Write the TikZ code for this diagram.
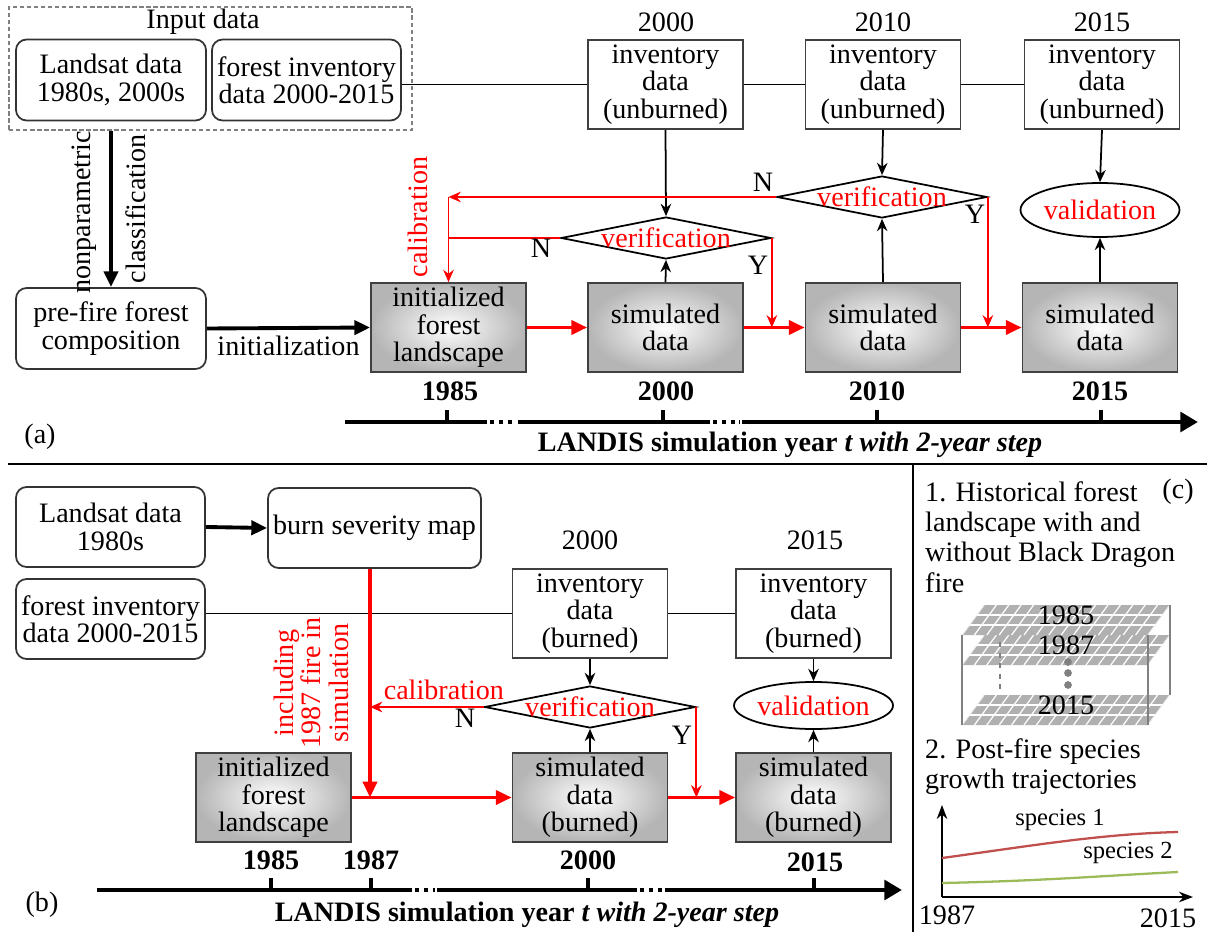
\documentclass[tikz,border=0pt]{standalone}
\usepackage{fontspec}
\setmainfont{Liberation Serif}
\usetikzlibrary{arrows.meta,shapes.geometric}
\definecolor{sponeline}{HTML}{C0504D}
\definecolor{sptwoline}{HTML}{9BBB59}
\tikzset{
  rbox/.style={draw=black!80, line width=1pt, rounded corners=6pt, align=center, inner sep=1pt,
    minimum width=3.8cm, minimum height=1.62cm},
  invbox/.style={draw=black!75, line width=1pt, align=center, inner sep=1pt,
    minimum width=3.1cm, minimum height=1.78cm},
  simbox/.style={invbox, shading=radial, inner color=white, outer color=gray!58},
  check/.style={draw, diamond, line width=1pt, inner sep=0pt, minimum width=4.2cm, minimum height=0.84cm},
  valid/.style={draw, ellipse, line width=1pt, text=red, inner sep=0pt, minimum width=3.12cm, minimum height=1.08cm},
  link/.style={line width=1pt, -{Stealth[length=7pt,width=6pt]}},
  push/.style={line width=2.2pt, -{Triangle[length=9pt,width=8pt]}},
  feed/.style={red, line width=2pt, -{Triangle[length=9pt,width=8pt]}},
  back/.style={red, line width=1.1pt, -{Stealth[length=7pt,width=6pt]}},
  axis/.style={line width=2.8pt},
  tick/.style={line width=1.8pt},
  yr/.style={font=\fontsize{16}{16}\selectfont\bfseries},
}
\begin{document}
\begin{tikzpicture}[x=0.02cm, y=-0.02cm, every node/.append style={font=\fontsize{16}{15.6}\selectfont}]
\useasboundingbox (0,0) rectangle (1214,932);

% (a) input data
\node[draw=gray, dashed, dash pattern=on 2.5pt off 1.5pt, line width=0.9pt,
  minimum width=8.06cm, minimum height=2.46cm] (input) at (210.5,68.5) {};
\node (inlbl) at (203,22) {Input data};
\node[rbox] (landA) at (111,80) {Landsat data\\1980s, 2000s};
\node[rbox, minimum width=3.78cm] (forA) at (306.5,80) {forest inventory\\data 2000-2015};
\node[rbox] (prefire) at (111,328.5) {pre-fire forest\\composition};

% (a) inventory data
\node (ya2000) at (666,22) {2000};
\node (ya2010) at (883,22) {2010};
\node (ya2015) at (1102,22) {2015};
\node[invbox] (invA2000) at (665.5,84.5) {inventory\\data\\(unburned)};
\node[invbox] (invA2010) at (883,84.5) {inventory\\data\\(unburned)};
\node[invbox] (invA2015) at (1102,84.5) {inventory\\data\\(unburned)};

% (a) checks
\node[check, label={[text=red]center:verification}] (chkA1) at (666,238) {};
\node[check, label={[text=red]center:verification}] (chkA2) at (882,197) {};
\node[valid] (valA) at (1100,210) {validation};

% (a) simulation
\node[simbox] (initA) at (448.5,327.5) {initialized\\forest\\landscape};
\node[simbox] (simA2000) at (665.5,327.5) {simulated\\data};
\node[simbox] (simA2010) at (883,327.5) {simulated\\data};
\node[simbox] (simA2015) at (1100,327.5) {simulated\\data};

\draw[line width=1pt] (forA.east |- invA2000.west) -- (invA2000.west);
\draw[line width=1pt] (invA2000.east) -- (invA2010.west);
\draw[line width=1pt] (invA2010.east) -- (invA2015.west);
\draw[link] (invA2000.south) -- (chkA1.north);
\draw[link] (invA2010.south) -- (chkA2.north);
\draw[link] (invA2015.south) -- (valA.north);
\draw[link] (simA2000.north) -- (chkA1.south);
\draw[link] (simA2010.north) -- (chkA2.south);
\draw[link] (simA2015.north) -- (valA.south);

\draw[push] (input.south -| prefire.north) -- (prefire.north)
  node[pos=0.52, rotate=90, anchor=south, inner sep=7pt] (nonpar) {nonparametric}
  node[pos=0.5, rotate=90, anchor=north, inner sep=7pt] (classif) {classification};
\draw[push] (prefire.east) -- (initA.west) node[midway, below] (initlbl) {initialization};

\draw[feed] (initA.east) -- (simA2000.west);
\draw[feed] (simA2000.east) -- (simA2010.west);
\draw[feed] (simA2010.east) -- (simA2015.west);
\draw[back] (chkA1.east) -- (chkA1.east |- simA2000.east);
\draw[back] (chkA2.east) -- (chkA2.east |- simA2010.east);
\draw[back] (chkA2.west) -- (chkA2.west -| initA.north);
\draw[back] (chkA2.west -| initA.north) -- (initA.north);
\draw[red, line width=1.1pt] (chkA1.west) -- (chkA1.west -| initA.north);
\node[red, rotate=90] (calA) at (418,217) {calibration};
\node (nA1) at (541,248) {N};
\node (yA1) at (758,265) {Y};
\node (nA2) at (763,182) {N};
\node (yA2) at (975,214) {Y};

% (a) time line
\node[yr] (ta1985) at (450,391) {1985};
\node[yr] (ta2000) at (666,391) {2000};
\node[yr] (ta2010) at (877,391) {2010};
\node[yr] (ta2015) at (1100,391) {2015};
\draw[axis] (345,422) -- (487,422);
\draw[axis, dash pattern=on 2.5pt off 2.5pt] (490,422) -- (516,422);
\draw[axis] (518,422) -- (710,422);
\draw[axis, dash pattern=on 2.5pt off 2.5pt] (713,422) -- (740,422);
\draw[axis, -{Triangle[length=10pt,width=11pt]}] (742,422) -- (1198,422);
\foreach \x in {447,663,877,1101} \draw[tick] (\x,423) -- (\x,410);
\node[yr] (axlblA) at (790,445) {LANDIS simulation year \textit{t with 2-year step}};
\node (pa) at (40,437) {(a)};

% separators
\draw[line width=1pt] (8,464) -- (1207,464);
\draw[line width=1pt] (913,464) -- (913,932);

% (b) inputs
\node[rbox, minimum width=3.78cm, minimum height=1.6cm] (landB) at (110.5,527) {Landsat data\\1980s};
\node[rbox, minimum width=4.26cm, minimum height=1.6cm] (burn) at (374.5,528) {burn severity map};
\node[rbox, minimum width=3.78cm, minimum height=1.6cm] (forB) at (110.5,619) {forest inventory\\data 2000-2015};
\draw[push] (landB.east) -- (burn.west);

% (b) inventory data
\node (yb2000) at (590,540) {2000};
\node (yb2015) at (815,540) {2015};
\node[invbox] (invB2000) at (590,613.5) {inventory\\data\\(burned)};
\node[invbox] (invB2015) at (813.5,613.5) {inventory\\data\\(burned)};
\node[check, minimum width=4.22cm, label={[text=red]center:verification}] (chkB) at (590,707) {};
\node[valid, minimum height=0.94cm] (valB) at (813.5,705.5) {validation};

% (b) simulation
\node[simbox] (initB) at (273.5,797.5) {initialized\\forest\\landscape};
\node[simbox] (simB2000) at (590,797.5) {simulated\\data\\(burned)};
\node[simbox] (simB2015) at (813.5,797.5) {simulated\\data\\(burned)};
\coordinate (fire) at (370,797.5);

\draw[line width=1pt] (forB.east |- invB2000.west) -- (invB2000.west);
\draw[line width=1pt] (invB2000.east) -- (invB2015.west);
\draw[link] (invB2000.south) -- (chkB.north);
\draw[link] (invB2015.south) -- (valB.north);
\draw[link] (simB2000.north) -- (chkB.south);
\draw[link] (simB2015.north) -- (valB.south);

\draw[feed] (burn.south -| fire) -- (fire);
\draw[feed] (initB.east) -- (simB2000.west);
\draw[feed] (simB2000.east) -- (simB2015.west);
\draw[back] (chkB.east) -- (chkB.east |- simB2000.east);
\draw[back] (chkB.west) -- (chkB.west -| fire)
  node[pos=0.35, above, text=red] (calB) {calibration};
\node (nB) at (465,718) {N};
\node (yB) at (682,735) {Y};
\node[red, rotate=90, align=center] (incl) at (311,683) {including\\1987 fire in\\simulation};

% (b) time line
\node[yr] (tb1985) at (271,860) {1985};
\node[yr] (tb1987) at (371,860) {1987};
\node[yr] (tb2000) at (588,860) {2000};
\node[yr] (tb2015) at (815,862) {2015};
\draw[axis] (97,890) -- (412,890);
\draw[axis, dash pattern=on 2.5pt off 2.5pt] (415,890) -- (435,890);
\draw[axis] (437,890) -- (637,890);
\draw[axis, dash pattern=on 2.5pt off 2.5pt] (640,890) -- (663,890);
\draw[axis, -{Triangle[length=10pt,width=11pt]}] (665,890) -- (902,890);
\foreach \x in {271,371,588,814} \draw[tick] (\x,891) -- (\x,878);
\node[yr] (axlblB) at (527,915) {LANDIS simulation year \textit{t with 2-year step}};
\node (pb) at (42,905) {(b)};

% (c) historical landscape
\node[anchor=west, align=left, font=\fontsize{16}{17.2}\selectfont] (hist) at (919,537)
  {1. Historical forest\\landscape with and\\without Black Dragon\\fire};
\node (pc) at (1178,492) {(c)};
\foreach \py/\yr in {665/1987, 635/1985, 725/2015} {
  \fill[gray!62] (962,\py) -- (1148,\py) -- (1170,\py-30) -- (984,\py-30) -- cycle;
  \begin{scope}
    \clip (962,\py) -- (1148,\py) -- (1170,\py-30) -- (984,\py-30) -- cycle;
    \foreach \k in {0,...,15} \draw[white, line width=0.7pt] (962+\k*12.4,\py) -- ++(22,-30);
    \foreach \k in {1,2} \draw[white, line width=0.7pt] (962+\k*7.33,\py-\k*10) -- ++(186,0);
  \end{scope}
  \node (lay\yr) at (1066,\py-20) {\yr};
}
\draw[gray, line width=0.8pt] (962,635) -- (962,725);
\draw[gray, line width=0.8pt] (1148,635) -- (1148,725);
\draw[gray, line width=0.8pt] (1170,605) -- (1170,695);
\draw[gray, line width=0.8pt, dashed] (1000,642) -- (1000,692);
\foreach \d in {662,673,685} \fill[gray] (1068,\d) circle (2.2pt);

% (c) growth trajectories
\node[anchor=west, align=left, font=\fontsize{16}{17.2}\selectfont] (post) at (919,767)
  {2. Post-fire species\\growth trajectories};
\coordinate (origin) at (942,897);
\draw[line width=1pt, -{Stealth[length=8pt,width=6pt]}] (origin) -- (942,805);
\draw[line width=1pt, -{Stealth[length=8pt,width=6pt]}] (origin) -- (1193,897);
\draw[sponeline, line width=1.3pt] (942,858) .. controls (1030,846) and (1100,834) .. (1178,832);
\draw[sptwoline, line width=1.3pt] (942,883) .. controls (1040,881) and (1100,876) .. (1178,872);
\node[font=\fontsize{14}{14}\selectfont] (sp1) at (1060,820) {species 1};
\node[font=\fontsize{14}{14}\selectfont] (sp2) at (1128,853) {species 2};
\node (gx0) at (947,915) {1987};
\node (gx1) at (1168,918) {2015};
\end{tikzpicture}
\end{document}
